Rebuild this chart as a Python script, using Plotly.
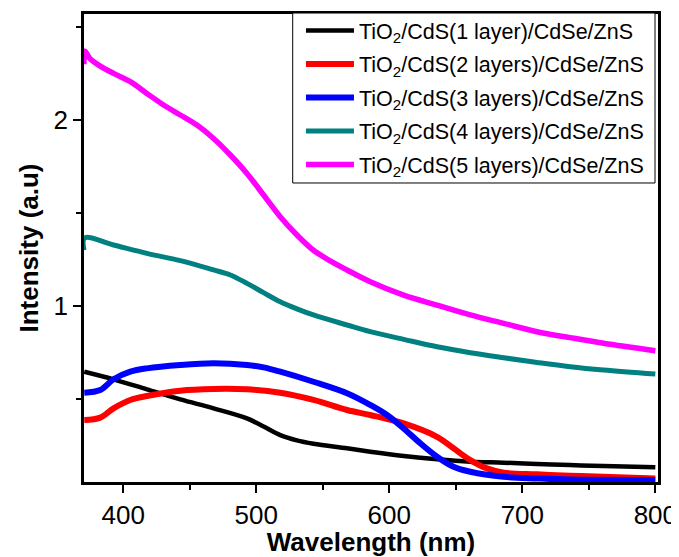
import plotly.graph_objects as go

x_black = [370.7, 392.7, 417.8, 442.9, 467.9, 493, 505.5, 518, 530.5, 543, 568.2, 585.7, 610.8, 635.9, 660.9, 686, 711, 736, 761, 800]
y_black = [0.647, 0.606, 0.552, 0.498, 0.45, 0.396, 0.352, 0.306, 0.278, 0.260, 0.235, 0.217, 0.194, 0.176, 0.163, 0.158, 0.151, 0.145, 0.14, 0.133]

x_red = [370.7, 382.7, 392.7, 405.3, 417.8, 442.9, 467.9, 493, 518, 543, 568.2, 585.7, 610.8, 635.9, 648.3, 660.9, 673.4, 686, 711, 736, 761, 800]
y_red = [0.387, 0.40, 0.45, 0.495, 0.516, 0.545, 0.554, 0.552, 0.534, 0.495, 0.441, 0.414, 0.369, 0.297, 0.235, 0.172, 0.127, 0.104, 0.095, 0.088, 0.082, 0.073]

x_blue = [370.7, 382.7, 392.7, 405.3, 417.8, 442.9, 467.9, 493, 505.5, 518, 543, 568.2, 585.7, 598.3, 610.8, 623.3, 635.9, 648.3, 660.9, 686, 711, 736, 800]
y_blue = [0.534, 0.548, 0.606, 0.647, 0.665, 0.683, 0.692, 0.683, 0.67, 0.647, 0.593, 0.531, 0.468, 0.414, 0.342, 0.262, 0.19, 0.136, 0.109, 0.082, 0.073, 0.067, 0.065]

x_teal = [370.5, 371.0, 392.7, 417.8, 442.9, 467.9, 480.5, 493, 505.5, 518, 530.5, 543, 568.2, 585.7, 610.8, 635.9, 660.9, 686, 711, 736, 761, 800]
y_teal = [1.30, 1.366, 1.328, 1.283, 1.244, 1.194, 1.167, 1.122, 1.072, 1.023, 0.985, 0.952, 0.898, 0.862, 0.821, 0.781, 0.749, 0.722, 0.697, 0.674, 0.656, 0.634]

x_mag = [370.5, 371.2, 375, 382.7, 392.7, 405.3, 417.8, 430.3, 442.9, 455.4, 467.9, 480.5, 493, 505.5, 518, 530.6, 543, 555.6, 568.2, 585.7, 610.8, 635.9, 660.9, 686, 711, 736, 761, 800]
y_mag = [2.30, 2.37, 2.33, 2.29, 2.251, 2.206, 2.143, 2.081, 2.027, 1.973, 1.901, 1.812, 1.713, 1.597, 1.48, 1.382, 1.30, 1.243, 1.194, 1.131, 1.059, 1.005, 0.952, 0.907, 0.862, 0.830, 0.80, 0.76]

names = [
    "TiO<sub>2</sub>/CdS(1 layer)/CdSe/ZnS",
    "TiO<sub>2</sub>/CdS(2 layers)/CdSe/ZnS",
    "TiO<sub>2</sub>/CdS(3 layers)/CdSe/ZnS",
    "TiO<sub>2</sub>/CdS(4 layers)/CdSe/ZnS",
    "TiO<sub>2</sub>/CdS(5 layers)/CdSe/ZnS",
]
colors = ["#000000", "#ff0000", "#0000ff", "#008080", "#ff00ff"]
widths = [4.5, 6, 6, 5, 5.5]

series = [(x_black, y_black), (x_red, y_red), (x_blue, y_blue), (x_teal, y_teal), (x_mag, y_mag)]

fig = go.Figure()
for i, ((xs, ys), n, c, w) in enumerate(zip(series, names, colors, widths)):
    fig.add_trace(go.Scatter(x=xs, y=ys, mode="lines", name=n, legendgroup=f"g{i}",
                             line=dict(color=c, width=w, shape="spline", smoothing=1.0)))

font_family = "Liberation Sans, Arial, sans-serif"
# page body has an 8px margin, so the figure is sized to fill the rest of the window
fig.update_layout(
    width=671, height=549,
    margin=dict(l=76, r=21, t=6, b=75, autoexpand=False),
    paper_bgcolor="white", plot_bgcolor="white",
    font=dict(family=font_family, color="black"),
    showlegend=True,
    legend=dict(x=0.378, y=1.0083, xanchor="left", yanchor="top",
                borderwidth=0, bgcolor="rgba(0,0,0,0)",
                font=dict(size=21.5, family=font_family), tracegroupgap=2.5,
                itemwidth=48),
    shapes=[dict(type="rect", xref="paper", yref="paper",
                 x0=0.3636, x1=0.9948, y0=0.6389, y1=1.0021,
                 line=dict(color="black", width=1), fillcolor="white", layer="above")],
)
fig.update_xaxes(
    range=[370.5, 802], showgrid=False, zeroline=False, automargin=False,
    showline=True, linecolor="black", linewidth=2.5, mirror=True,
    ticks="outside", ticklen=8, tickwidth=2, tickcolor="black",
    tickvals=[400, 500, 600, 700, 800],
    tickfont=dict(size=26, family=font_family),
    minor=dict(ticks="outside", ticklen=5, tickwidth=2, tickcolor="black", tickvals=[450, 550, 650, 750]),
    title=dict(text="<b>Wavelength (nm)</b>", font=dict(size=26, family=font_family), standoff=4),
)
fig.update_yaxes(
    range=[0.054, 2.57], showgrid=False, zeroline=False, automargin=False,
    showline=True, linecolor="black", linewidth=2.5, mirror=True,
    ticks="outside", ticklen=8, tickwidth=2, tickcolor="black",
    tickvals=[1, 2],
    tickfont=dict(size=26, family=font_family),
    minor=dict(ticks="outside", ticklen=5, tickwidth=2, tickcolor="black", tickvals=[0.5, 1.5, 2.5]),
    title=dict(text="<b>Intensity (a.u)</b>", font=dict(size=26, family=font_family), standoff=8),
)

fig.write_html("out.html")
